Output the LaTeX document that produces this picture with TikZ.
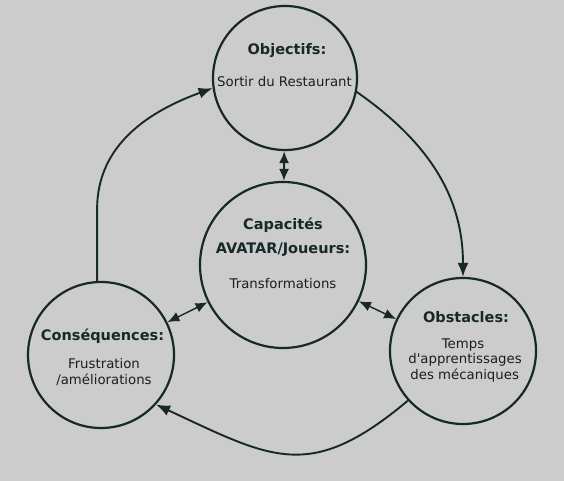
\documentclass[tikz,border=0pt]{standalone}
\usepackage{fontspec}
\setmainfont{DejaVu Sans}[Ligatures=TeXOff]
\usetikzlibrary{arrows.meta}
\definecolor{bg}{HTML}{CCCCCC}
\definecolor{lc}{HTML}{172829}
\definecolor{tc}{HTML}{1C1E1E}
\tikzset{
  circ/.style={circle, draw=lc, line width=2.2pt, fill=bg, inner sep=0pt},
  conn/.style={draw=lc, line width=1.9pt, -{Latex[length=14pt,width=11pt]}},
  dconn/.style={draw=lc, line width=1.4pt, {Latex[length=12pt,width=10pt]}-{Latex[length=12pt,width=10pt]}},
  ttl/.style={anchor=base, text=lc, inner sep=0pt, font=\fontsize{14.5}{17}\selectfont\bfseries},
  txt/.style={anchor=base, text=tc, inner sep=0pt, font=\fontsize{13.3}{16}\selectfont},
}
\begin{document}
\begin{tikzpicture}[x=1pt,y=1pt]
\fill[bg] (0,0) rectangle (564,481);
\useasboundingbox (0,0) rectangle (564,481);
% circles
\node[circ, minimum size=144pt] (top) at (285,403) {};
\node[circ, minimum size=166pt] (center) at (283,216) {};
\node[circ, minimum size=146pt] (left) at (101,126) {};
\node[circ, minimum size=146pt] (right) at (463,130) {};
% texts
\node[ttl] (t1) at (287,426) {Objectifs:};
\node[txt] (t1b) at (284.5,394) {Sortir du Restaurant};
\node[ttl] (c1) at (283,251) {Capacités};
\node[ttl] (c2) at (283,227) {AVATAR/Joueurs:};
\node[txt] (c3) at (283,192) {Transformations};
\node[ttl] (l1) at (102.5,140) {Conséquences:};
\node[txt] (l2) at (104,112) {Frustration};
\node[txt] (l3) at (104,96) {/améliorations};
\node[ttl] (r1) at (466,158) {Obstacles:};
\node[txt] (r2) at (463,132) {Temps};
\node[txt] (r3) at (465,117) {d'apprentissages};
\node[txt] (r4) at (464.7,101) {des mécaniques};
% connectors
\draw[conn] (left.93) -- ++(0,72) coordinate (lbend) to[out=90,in=200] (top.188);
\draw[conn] (top.-11) to[out=-35,in=90] (right.north);
\draw[conn] (right.222) to[out=220,in=-25,looseness=1.3] (left.-42);
\draw[dconn, line width=2pt] (top) -- (center);
\draw[dconn] (center) -- (left);
\draw[dconn] (center) -- (right);
\end{tikzpicture}
\end{document}
